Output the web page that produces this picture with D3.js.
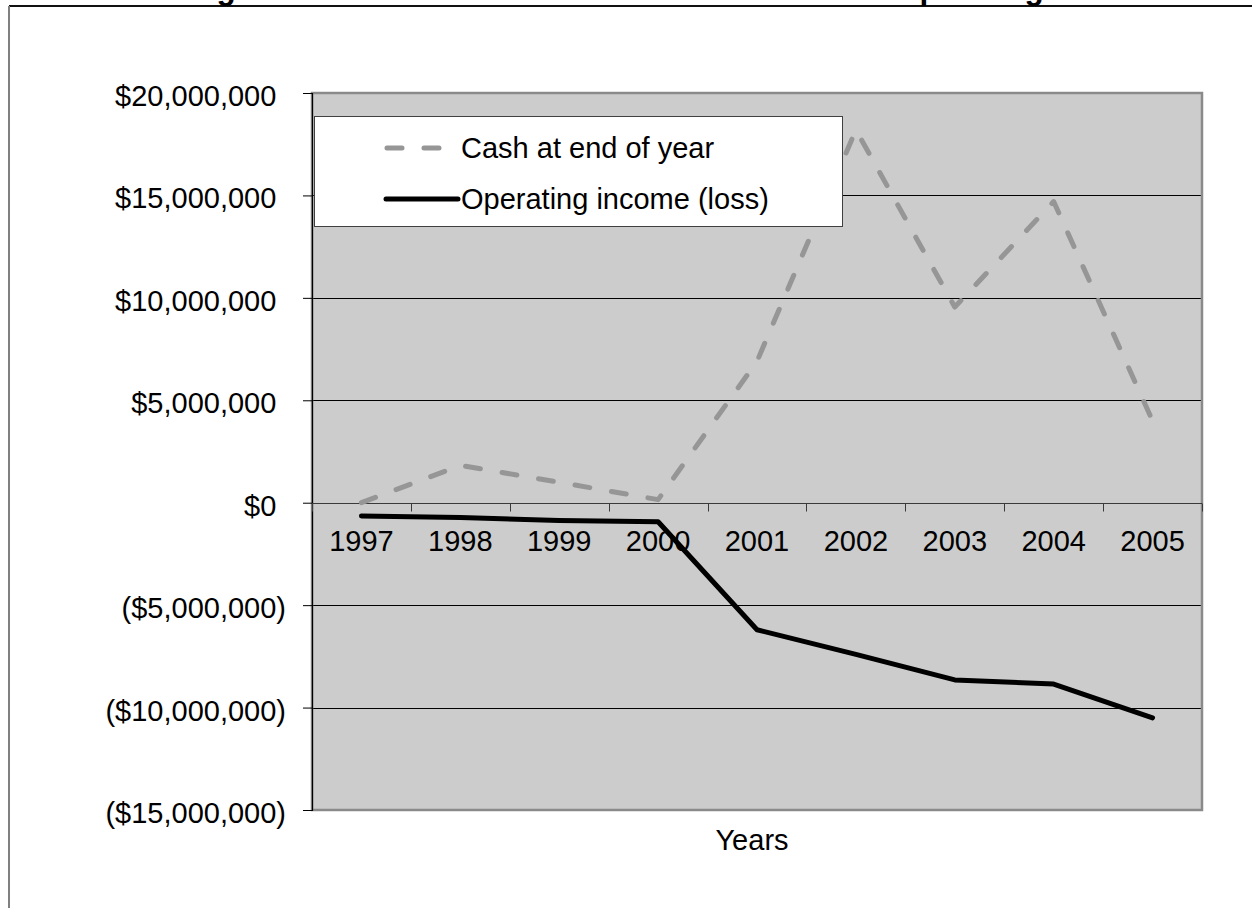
<!DOCTYPE html>
<html>
<head>
<meta charset="utf-8">
<script src="https://cdn.jsdelivr.net/npm/d3@7"></script>
<style>
  html, body { margin: 0; padding: 0; background: #ffffff; }
  svg { display: block; font-family: "Liberation Sans", Arial, sans-serif; }
</style>
</head>
<body>
<svg id="chart" width="1252" height="908"></svg>
<script>
// Fiscal years shown on the category axis
const years = ["1997", "1998", "1999", "2000", "2001", "2002", "2003", "2004", "2005"];

// Cash balance at the close of each year (USD)
const cashEndOfYear = [0, 1820000, 1000000, 150000, 6900000, 18200000, 9550000, 14700000, 4000000];

// Operating income (loss) for each year (USD)
const operatingIncome = [-650000, -720000, -870000, -930000, -6200000, -7400000, -8650000, -8850000, -10500000];

// Value axis ticks
const yTicks = [20000000, 15000000, 10000000, 5000000, 0, -5000000, -10000000, -15000000];

const seriesNames = ["Cash at end of year", "Operating income (loss)"];
const titleText = "Figure 1: Cash at End of Year and Total Annual Operating Income";
const xAxisTitle = "Years";

const svg = d3.select("#chart");
const plot = { left: 312, right: 1202, top: 93, bottom: 810 };
const fontSize = 29;

const x = d3.scaleBand().domain(years).range([plot.left, plot.right]).padding(0);
const y = d3.scaleLinear().domain([-15000000, 20000000]).range([plot.bottom, plot.top]);

const money = d3.format(",");
const fmt = d => d < 0 ? "($" + money(-d) + ")" : "$" + money(d);

// Outer chart frame (only its top and left edges fall inside the page)
svg.append("line").attr("x1", 9).attr("x2", 1252).attr("y1", 6).attr("y2", 6)
  .attr("stroke", "#111").attr("stroke-width", 2);
svg.append("line").attr("x1", 9).attr("x2", 9).attr("y1", 6).attr("y2", 908)
  .attr("stroke", "#808080").attr("stroke-width", 2);

// Chart title, set high so that only its descenders reach the page
svg.append("text")
  .attr("x", 188.5).attr("y", -1.5)
  .attr("font-size", 31.5).attr("font-weight", "bold").attr("fill", "#000")
  .text(titleText);

// Plot area
svg.append("rect")
  .attr("x", plot.left).attr("y", plot.top)
  .attr("width", plot.right - plot.left).attr("height", plot.bottom - plot.top)
  .attr("fill", "#cccccc");

// Horizontal gridlines
svg.append("g").selectAll("line")
  .data(yTicks.filter(d => d !== 0 && d !== 20000000 && d !== -15000000))
  .join("line")
  .attr("x1", plot.left).attr("x2", plot.right)
  .attr("y1", d => Math.round(y(d)) + 0.5).attr("y2", d => Math.round(y(d)) + 0.5)
  .attr("stroke", "#000").attr("stroke-width", 1);

// Plot area border
svg.append("rect")
  .attr("x", plot.left).attr("y", plot.top)
  .attr("width", plot.right - plot.left).attr("height", plot.bottom - plot.top)
  .attr("fill", "none").attr("stroke", "#8a8a8a").attr("stroke-width", 2.5);

// Value axis
const yAxis = d3.axisLeft(y).tickValues(yTicks).tickSize(9).tickPadding(0).tickFormat(fmt);
const yg = svg.append("g").attr("transform", `translate(${plot.left},0)`).call(yAxis);
yg.select(".domain").attr("stroke", "#000").attr("stroke-width", 1.2);
yg.selectAll(".tick line").attr("stroke", "#000");
yg.selectAll(".tick text")
  .attr("font-size", fontSize).attr("fill", "#000")
  .attr("font-family", "'Liberation Sans', Arial, sans-serif")
  .attr("dy", "0.43em")
  .attr("x", d => d < 0 ? -26 : -26 - fontSize * 0.333);

// Category axis along the zero line
const zeroY = Math.round(y(0)) + 0.5;
const xg = svg.append("g");
xg.append("line").attr("x1", plot.left).attr("x2", plot.right)
  .attr("y1", zeroY).attr("y2", zeroY)
  .attr("stroke", "#3a3a3a").attr("stroke-width", 1.2);
const boundaries = years.map(d => x(d)).concat([x.range()[1]]);
xg.selectAll("line.tick").data(boundaries).join("line")
  .attr("class", "tick")
  .attr("x1", d => Math.round(d) + 0.5).attr("x2", d => Math.round(d) + 0.5)
  .attr("y1", zeroY).attr("y2", zeroY + 8)
  .attr("stroke", "#3a3a3a").attr("stroke-width", 1);
xg.selectAll("text").data(years).join("text")
  .attr("x", d => x(d) + x.bandwidth() / 2)
  .attr("y", zeroY + 47)
  .attr("text-anchor", "middle")
  .attr("font-size", fontSize).attr("fill", "#000")
  .text(d => d);

// Series lines
const cx = (d, i) => x(years[i]) + x.bandwidth() / 2;
const line = d3.line().x((d, i) => cx(d, i)).y(d => y(d));

svg.append("path").datum(cashEndOfYear)
  .attr("d", line)
  .attr("fill", "none").attr("stroke", "#969696").attr("stroke-width", 5)
  .attr("stroke-dasharray", "15,22").attr("stroke-linecap", "round").attr("stroke-linejoin", "round");

svg.append("path").datum(operatingIncome)
  .attr("d", line)
  .attr("fill", "none").attr("stroke", "#000").attr("stroke-width", 5)
  .attr("stroke-linecap", "round").attr("stroke-linejoin", "round");

// Legend
const legend = svg.append("g");
legend.append("rect")
  .attr("x", 314.5).attr("y", 116.5).attr("width", 528).attr("height", 110)
  .attr("fill", "#fff").attr("stroke", "#404040").attr("stroke-width", 1);
const legendRows = [
  { name: seriesNames[0], y: 148, dash: "15,22", color: "#969696" },
  { name: seriesNames[1], y: 199, dash: null, color: "#000" }
];
legendRows.forEach(r => {
  legend.append("line")
    .attr("x1", r.dash ? 387 : 386).attr("x2", r.dash ? 440 : 458)
    .attr("y1", r.y).attr("y2", r.y)
    .attr("stroke", r.color).attr("stroke-width", 5)
    .attr("stroke-dasharray", r.dash).attr("stroke-linecap", "round");
  legend.append("text")
    .attr("x", 461).attr("y", r.y).attr("dy", "0.36em")
    .attr("font-size", fontSize).attr("fill", "#000")
    .text(r.name);
});

// Category axis title
svg.append("text")
  .attr("x", (plot.left + plot.right) / 2 - 5).attr("y", 850)
  .attr("text-anchor", "middle")
  .attr("font-size", fontSize).attr("fill", "#000")
  .text(xAxisTitle);
</script>
</body>
</html>
